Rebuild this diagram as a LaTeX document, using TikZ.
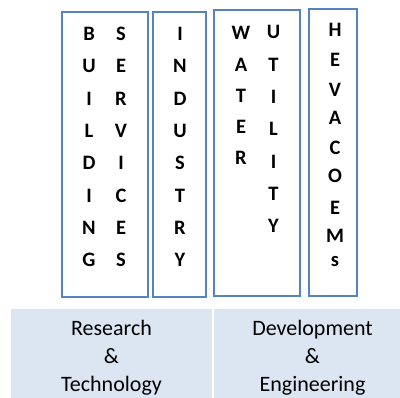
\documentclass[tikz,border=0pt]{standalone}
\usepackage{fontspec}
\setmainfont{Carlito}
\definecolor{boxblue}{RGB}{84,131,190}
\definecolor{bandfill}{RGB}{220,230,242}
\begin{document}
\begin{tikzpicture}[x=1pt,y=-1pt,
  colbox/.style={draw=boxblue,line width=2pt},
  letter/.style={anchor=base,inner sep=0pt,font=\fontsize{20.5}{22}\bfseries\selectfont},
  bandtext/.style={anchor=base,inner sep=0pt,font=\fontsize{22}{26}\selectfont}]
\useasboundingbox (0,0) rectangle (400,398);
% band
\fill[bandfill] (11,309) rectangle (400,398);
\draw[white,line width=1.5pt] (213,309) -- (213,398);
% boxes
\draw[colbox] (62,12) rectangle (148,297);
\draw[colbox] (153,12) rectangle (206,297);
\draw[colbox] (214,10) rectangle (300,296);
\draw[colbox] (309,9) rectangle (357,296);
% Building / Services
\foreach \l [count=\i from 0] in {B,U,I,L,D,I,N,G}
  \node[letter] (bl\i) at (89,40.7+32.3*\i) {\l};
\foreach \l [count=\i from 0] in {S,E,R,V,I,C,E,S}
  \node[letter] (sv\i) at (121,40.7+32.3*\i) {\l};
% Industry
\foreach \l [count=\i from 0] in {I,N,D,U,S,T,R,Y}
  \node[letter] (in\i) at (180,40.7+32.3*\i) {\l};
% Water / Utility
\foreach \l [count=\i from 0] in {W,A,T,E,R}
  \node[letter] (wa\i) at (241,40+31.25*\i) {\l};
\foreach \l [count=\i from 0] in {U,T,I,L,I,T,Y}
  \node[letter] (ut\i) at (273.5,39+32.3*\i) {\l};
% HEVACOEMs
\foreach \l/\y [count=\i from 0] in {H/37,E/67,V/97,A/125,C/155,O/183,E/215,M/243,s/267}
  \node[letter] (hv\i) at (335,\y) {\l};
% bottom texts
\node[bandtext] (r1) at (111.5,336) {Research};
\node[bandtext] (r2) at (111.5,364) {\&};
\node[bandtext] (r3) at (111.5,392) {Technology};
\node[bandtext] (d1) at (312.5,336) {Development};
\node[bandtext] (d2) at (312.5,364) {\&};
\node[bandtext] (d3) at (312.5,392) {Engineering};
\end{tikzpicture}
\end{document}
